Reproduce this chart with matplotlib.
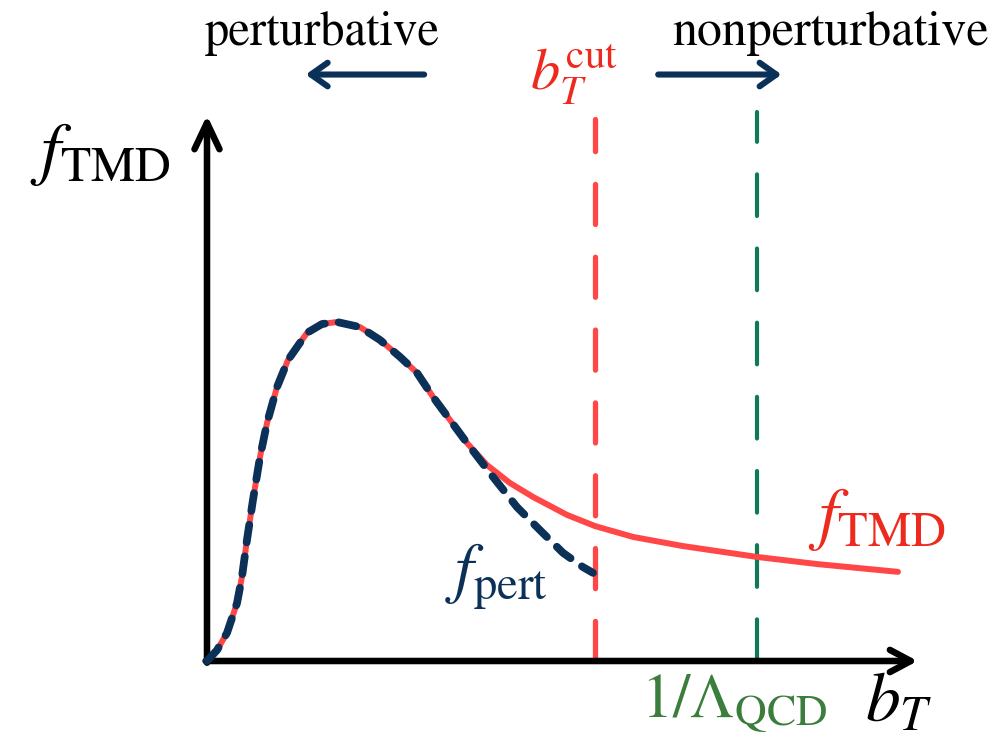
import matplotlib
matplotlib.use("Agg")
import matplotlib.pyplot as plt

plt.rcParams['mathtext.fontset'] = 'stix'
plt.rcParams['font.family'] = ['STIXGeneral', 'DejaVu Serif']

# ---- data (schematic, b_T in arbitrary units, f normalised to peak) ----
b_tmd = [0.0, 0.142, 0.284, 0.426, 0.496, 0.567, 0.652, 0.752, 0.851, 0.993,
         1.149, 1.418, 1.631, 1.844, 2.170, 2.454, 2.738, 2.979, 3.206, 3.447,
         3.688, 3.972, 4.298, 4.624, 5.106, 5.504, 6.043, 6.752, 7.801, 8.652,
         9.801]
f_tmd = [0.0, 0.032, 0.083, 0.171, 0.248, 0.357, 0.475, 0.602, 0.702, 0.808,
         0.888, 0.968, 0.994, 1.0, 0.985, 0.947, 0.897, 0.850, 0.779, 0.711,
         0.643, 0.578, 0.525, 0.484, 0.431, 0.398, 0.366, 0.339, 0.307, 0.286,
         0.263]
b_pert = [0.0, 0.142, 0.284, 0.426, 0.496, 0.567, 0.652, 0.752, 0.851, 0.993,
          1.149, 1.418, 1.631, 1.844, 2.170, 2.454, 2.738, 2.979, 3.206, 3.447,
          3.688, 3.872, 4.057, 4.397, 4.723, 5.050, 5.333, 5.475]
f_pert = [0.0, 0.032, 0.083, 0.171, 0.248, 0.357, 0.475, 0.602, 0.702, 0.808,
          0.888, 0.968, 0.994, 1.0, 0.985, 0.947, 0.897, 0.850, 0.779, 0.711,
          0.643, 0.593, 0.543, 0.454, 0.386, 0.319, 0.277, 0.260]
b_cut = 5.504
b_lambda = 7.80
x_max = 10.0
y_max = 1.61
y_cut_top = 1.60
y_lam_top = 1.62

RED = '#FF4747'
RED_TXT = '#EE2A1E'
NAVY = '#0C3158'
GREEN_LINE = '#0E7A58'
GREEN_TXT = '#3B7D3B'

fig = plt.figure(figsize=(9.98, 7.37), dpi=100)
ax = fig.add_axes([0, 0, 1, 1])
sx = 70.5
sy = 339.0
ax.set_xlim(-207 / sx, (998 - 207) / sx)
ax.set_ylim(-(737 - 661) / sy, 661 / sy)
ax.axis('off')

# axes arrows
ax.annotate('', xy=(x_max + 0.08, 0), xytext=(-0.02, 0),
            arrowprops=dict(arrowstyle='->,head_length=1.5,head_width=0.8',
                            lw=4.7, color='black', capstyle='round',
                            joinstyle='round', mutation_scale=10,
                            shrinkA=0, shrinkB=0))
ax.annotate('', xy=(0, y_max), xytext=(0, -0.005),
            arrowprops=dict(arrowstyle='->,head_length=1.9,head_width=0.9',
                            lw=4.7, color='black', capstyle='round',
                            joinstyle='round', mutation_scale=10,
                            shrinkA=0, shrinkB=0))

# vertical dashed lines
ax.plot([b_cut, b_cut], [0, y_cut_top], color=RED, lw=3.8,
        dashes=(7.6, 6.2), dash_capstyle='round', zorder=2)
ax.plot([b_lambda, b_lambda], [0, y_lam_top], color=GREEN_LINE, lw=3.0,
        dashes=(10.0, 7.8), dash_capstyle='round', zorder=2)

# curves
ax.plot(b_tmd, f_tmd, color=RED, lw=4.3, solid_capstyle='round',
        solid_joinstyle='round', zorder=3)
ax.plot(b_pert, f_pert, color=NAVY, lw=5.6, dashes=(2.3, 1.8),
        dash_capstyle='round', dash_joinstyle='round', zorder=4)

# top arrows
ax.annotate('', xy=(1.40, 1.73), xytext=(3.08, 1.73),
            arrowprops=dict(arrowstyle='->,head_length=1.2,head_width=0.85',
                            lw=4.4, color=NAVY, capstyle='round',
                            joinstyle='round', mutation_scale=10,
                            shrinkA=0, shrinkB=0))
ax.annotate('', xy=(8.15, 1.73), xytext=(6.40, 1.73),
            arrowprops=dict(arrowstyle='->,head_length=1.2,head_width=0.85',
                            lw=4.4, color=NAVY, capstyle='round',
                            joinstyle='round', mutation_scale=10,
                            shrinkA=0, shrinkB=0))

# texts
ax.text(-0.03, 1.817, 'perturbative', fontsize=35, ha='left', va='baseline',
        color='black')
ax.text(6.596, 1.817, 'nonperturbative', fontsize=36, ha='left',
        va='baseline', color='black')
ax.text(4.58, 1.684, r'$b_T^{\mathrm{cut}}$', fontsize=42, ha='left',
        va='baseline', color=RED_TXT)
ax.text(-2.51, 1.442, r'$f_{\mathrm{TMD}}$', fontsize=51, ha='left',
        va='baseline', color='black')
ax.text(8.525, 0.366, r'$f_{\mathrm{TMD}}$', fontsize=50, ha='left',
        va='baseline', color=RED_TXT)
ax.text(3.376, 0.209, r'$f_{\mathrm{pert}}$', fontsize=48, ha='left',
        va='baseline', color=NAVY)
ax.text(6.15, -0.165, r'$1/\Lambda_{\mathrm{QCD}}$', fontsize=45, ha='left',
        va='baseline', color=GREEN_TXT)
ax.text(9.333, -0.175, r'$b_T$', fontsize=50, ha='left', va='baseline',
        color='black')

fig.savefig('out.png', dpi=100)
